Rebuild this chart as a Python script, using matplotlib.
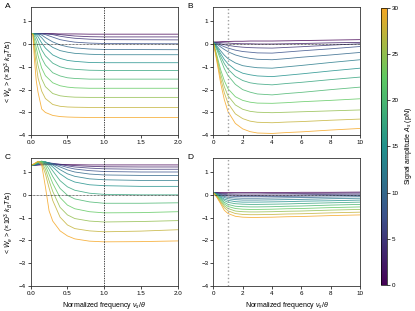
"""Work rate vs normalized signal frequency for a range of signal amplitudes."""

import matplotlib
matplotlib.use("Agg")
import matplotlib.pyplot as plt
from matplotlib.colors import LinearSegmentedColormap, Normalize
from matplotlib.cm import ScalarMappable

plt.rcParams["font.family"] = ["Liberation Sans", "DejaVu Sans"]
plt.rcParams["mathtext.fontset"] = "custom"
plt.rcParams["mathtext.rm"] = "Liberation Sans"
plt.rcParams["mathtext.it"] = "Liberation Sans:italic"
plt.rcParams["font.size"] = 4.5

# ---------------------------------------------------------------------------
# Data
# ---------------------------------------------------------------------------

AMPLITUDES = [0, 2.5, 5, 7.5, 10, 12.5, 15, 17.5, 20, 22.5, 25, 27.5, 30]  # pN

X_A = [0.01, 0.03, 0.05, 0.075, 0.1, 0.15, 0.2, 0.3, 0.4, 0.5, 0.6, 0.8, 1.0, 2.0]
W_A = [
    [0.45, 0.45, 0.45, 0.45, 0.45, 0.45, 0.45, 0.45, 0.44, 0.44, 0.44, 0.43, 0.43, 0.43],
    [0.45, 0.45, 0.45, 0.45, 0.45, 0.45, 0.45, 0.44, 0.41, 0.38, 0.35, 0.32, 0.31, 0.31],
    [0.45, 0.45, 0.45, 0.45, 0.45, 0.45, 0.45, 0.41, 0.34, 0.29, 0.25, 0.21, 0.19, 0.18],
    [0.45, 0.45, 0.45, 0.45, 0.45, 0.45, 0.41, 0.30, 0.19, 0.13, 0.08, 0.04, 0.02, 0.01],
    [0.45, 0.45, 0.45, 0.45, 0.45, 0.39, 0.28, 0.09, -0.04, -0.12, -0.17, -0.22, -0.24, -0.25],
    [0.45, 0.45, 0.45, 0.45, 0.42, 0.27, 0.08, -0.15, -0.29, -0.36, -0.41, -0.45, -0.47, -0.47],
    [0.45, 0.45, 0.45, 0.41, 0.32, 0.04, -0.18, -0.48, -0.63, -0.72, -0.76, -0.81, -0.82, -0.82],
    [0.45, 0.45, 0.42, 0.31, 0.13, -0.26, -0.52, -0.84, -1.00, -1.08, -1.11, -1.15, -1.16, -1.16],
    [0.45, 0.45, 0.35, 0.12, -0.15, -0.62, -0.92, -1.26, -1.40, -1.48, -1.51, -1.54, -1.54, -1.54],
    [0.45, 0.45, 0.21, -0.16, -0.51, -1.06, -1.39, -1.70, -1.83, -1.89, -1.92, -1.94, -1.94, -1.94],
    [0.45, 0.44, 0.03, -0.51, -0.95, -1.53, -1.87, -2.17, -2.27, -2.31, -2.33, -2.34, -2.34, -2.34],
    [0.45, 0.42, -0.26, -0.92, -1.49, -2.07, -2.39, -2.65, -2.73, -2.76, -2.77, -2.78, -2.78, -2.78],
    [0.45, 0.40, -0.65, -1.60, -2.12, -2.85, -3.00, -3.13, -3.18, -3.20, -3.21, -3.22, -3.22, -3.22],
]

X_B = [0, 0.25, 0.5, 0.75, 1, 1.5, 2, 2.5, 3, 4, 5, 6, 8, 10]
W_B = [
    [0.08, 0.09, 0.10, 0.11, 0.11, 0.12, 0.12, 0.13, 0.13, 0.13, 0.14, 0.15, 0.17, 0.19],
    [0.08, 0.07, 0.06, 0.05, 0.04, 0.02, 0.01, 0.01, 0.00, 0.00, 0.01, 0.02, 0.05, 0.07],
    [0.08, 0.05, 0.01, -0.03, -0.06, -0.11, -0.14, -0.16, -0.17, -0.18, -0.15, -0.12, -0.05, 0.01],
    [0.08, 0.02, -0.05, -0.12, -0.18, -0.27, -0.33, -0.36, -0.39, -0.40, -0.35, -0.30, -0.21, -0.11],
    [0.08, -0.01, -0.13, -0.24, -0.34, -0.48, -0.57, -0.63, -0.67, -0.69, -0.64, -0.58, -0.48, -0.37],
    [0.08, -0.09, -0.30, -0.49, -0.64, -0.83, -0.95, -1.00, -1.04, -1.06, -1.00, -0.94, -0.81, -0.69],
    [0.08, -0.15, -0.42, -0.68, -0.87, -1.13, -1.28, -1.35, -1.40, -1.43, -1.37, -1.31, -1.18, -1.06],
    [0.08, -0.20, -0.54, -0.86, -1.10, -1.42, -1.60, -1.70, -1.75, -1.79, -1.73, -1.68, -1.56, -1.45],
    [0.08, -0.27, -0.68, -1.08, -1.38, -1.77, -2.00, -2.11, -2.19, -2.23, -2.17, -2.12, -2.00, -1.89],
    [0.08, -0.51, -1.13, -1.61, -1.96, -2.31, -2.47, -2.55, -2.59, -2.60, -2.57, -2.53, -2.47, -2.40],
    [0.08, -0.60, -1.31, -1.87, -2.27, -2.67, -2.86, -2.95, -2.99, -3.01, -2.99, -2.97, -2.93, -2.89],
    [0.08, -0.70, -1.51, -2.14, -2.60, -3.06, -3.27, -3.38, -3.43, -3.45, -3.42, -3.40, -3.34, -3.29],
    [0.08, -0.80, -1.72, -2.44, -2.96, -3.48, -3.72, -3.84, -3.90, -3.92, -3.88, -3.85, -3.77, -3.70],
]

X_C = [0.01, 0.05, 0.1, 0.15, 0.2, 0.25, 0.3, 0.4, 0.5, 0.6, 0.8, 1.0, 1.5, 2.0]
W_C = [
    [1.30, 1.30, 1.31, 1.31, 1.32, 1.32, 1.32, 1.32, 1.32, 1.32, 1.31, 1.31, 1.31, 1.31],
    [1.30, 1.30, 1.31, 1.33, 1.35, 1.36, 1.36, 1.34, 1.31, 1.28, 1.25, 1.23, 1.22, 1.22],
    [1.30, 1.30, 1.32, 1.35, 1.38, 1.39, 1.38, 1.33, 1.27, 1.22, 1.17, 1.14, 1.12, 1.12],
    [1.30, 1.30, 1.33, 1.37, 1.40, 1.40, 1.37, 1.29, 1.20, 1.13, 1.06, 1.02, 1.00, 1.00],
    [1.30, 1.31, 1.34, 1.39, 1.42, 1.40, 1.35, 1.22, 1.09, 1.00, 0.91, 0.87, 0.85, 0.85],
    [1.30, 1.31, 1.36, 1.42, 1.44, 1.40, 1.31, 1.10, 0.92, 0.81, 0.70, 0.66, 0.63, 0.63],
    [1.30, 1.32, 1.38, 1.45, 1.45, 1.37, 1.22, 0.92, 0.70, 0.56, 0.44, 0.40, 0.37, 0.37],
    [1.30, 1.32, 1.40, 1.47, 1.44, 1.28, 1.05, 0.62, 0.35, 0.20, 0.07, 0.02, 0.00, 0.00],
    [1.30, 1.33, 1.42, 1.48, 1.38, 1.12, 0.80, 0.28, -0.02, -0.18, -0.31, -0.37, -0.37, -0.35],
    [1.30, 1.34, 1.44, 1.46, 1.28, 0.90, 0.50, -0.12, -0.45, -0.61, -0.74, -0.79, -0.78, -0.74],
    [1.30, 1.35, 1.46, 1.43, 1.12, 0.62, 0.15, -0.55, -0.88, -1.04, -1.15, -1.19, -1.17, -1.13],
    [1.30, 1.36, 1.47, 1.38, 0.92, 0.30, -0.25, -0.98, -1.32, -1.48, -1.58, -1.62, -1.59, -1.53],
    [1.30, 1.37, 1.46, 1.30, 0.35, -0.70, -1.15, -1.58, -1.80, -1.93, -2.03, -2.06, -2.05, -2.02],
]

X_D = [0, 0.25, 0.5, 0.75, 1, 1.5, 2, 2.5, 3, 4, 5, 6, 8, 10]
W_D = [
    [0.10, 0.10, 0.10, 0.10, 0.10, 0.10, 0.10, 0.10, 0.10, 0.10, 0.10, 0.11, 0.11, 0.12],
    [0.10, 0.09, 0.07, 0.06, 0.05, 0.04, 0.04, 0.04, 0.04, 0.05, 0.05, 0.06, 0.07, 0.08],
    [0.10, 0.08, 0.05, 0.02, 0.00, -0.01, -0.02, -0.02, -0.02, -0.01, -0.01, 0.00, 0.02, 0.03],
    [0.10, 0.06, 0.02, -0.02, -0.05, -0.07, -0.08, -0.08, -0.08, -0.07, -0.07, -0.06, -0.04, -0.02],
    [0.10, 0.05, -0.01, -0.07, -0.11, -0.14, -0.15, -0.15, -0.15, -0.14, -0.13, -0.12, -0.10, -0.08],
    [0.10, 0.03, -0.05, -0.12, -0.17, -0.21, -0.23, -0.23, -0.23, -0.22, -0.21, -0.20, -0.17, -0.15],
    [0.10, 0.02, -0.09, -0.19, -0.24, -0.30, -0.32, -0.32, -0.32, -0.31, -0.30, -0.28, -0.26, -0.23],
    [0.10, 0.00, -0.13, -0.25, -0.33, -0.39, -0.41, -0.42, -0.42, -0.41, -0.40, -0.38, -0.35, -0.32],
    [0.10, -0.03, -0.18, -0.33, -0.42, -0.50, -0.52, -0.53, -0.53, -0.52, -0.50, -0.49, -0.45, -0.42],
    [0.10, -0.05, -0.23, -0.40, -0.51, -0.60, -0.63, -0.64, -0.64, -0.63, -0.61, -0.60, -0.56, -0.53],
    [0.10, -0.07, -0.28, -0.48, -0.60, -0.71, -0.74, -0.75, -0.75, -0.74, -0.72, -0.71, -0.67, -0.64],
    [0.10, -0.09, -0.34, -0.56, -0.70, -0.82, -0.86, -0.87, -0.87, -0.86, -0.84, -0.83, -0.79, -0.76],
    [0.10, -0.12, -0.39, -0.68, -0.82, -0.94, -0.98, -0.99, -0.99, -0.98, -0.96, -0.95, -0.91, -0.88],
]

XTICKS_SHORT = [0.0, 0.5, 1.0, 1.5, 2.0]
XTICKS_LONG = [0, 2, 4, 6, 8, 10]
YTICKS = [-4, -3, -2, -1, 0, 1]
CBAR_TICKS = [0, 5, 10, 15, 20, 25, 30]

YLABEL = r"< $\dot{W}_e$ > ($\times$10$^3$ $k_B T$/s)"
XLABEL = r"Normalized frequency $\nu_s/\theta$"
CBAR_LABEL = r"Signal amplitude $A_s$ (pN)"

CMAP = LinearSegmentedColormap.from_list(
    "amp", ["#440154", "#3b528b", "#21918c", "#5ec962", "#f5a623"])
NORM = Normalize(0, 30)


def draw_panel(ax, x, rows, xlim, xticks, short):
    for amp, row in zip(AMPLITUDES, rows):
        ax.plot(x, row, color=CMAP(NORM(amp)), lw=0.6, alpha=0.85)
    if short:
        ax.axvline(1.0, color="k", ls=(0, (2, 1.5)), lw=0.5, zorder=3)
    else:
        ax.axvline(1.0, color="#a0a0a0", ls=":", lw=1.0, zorder=3)
    ax.axhline(0.0, color="k", ls=(0, (1, 1)), lw=0.5, zorder=3)
    ax.set_xlim(*xlim)
    ax.set_ylim(-4, 1.6)
    ax.set_xticks(xticks)
    if short:
        ax.set_xticklabels([f"{t:.1f}" for t in xticks])
    ax.set_yticks(YTICKS)
    ax.tick_params(length=2, width=0.5, pad=1.5, labelsize=4.5)
    for sp in ax.spines.values():
        sp.set_linewidth(0.6)
        sp.set_color("#333333")


def main() -> None:
    fig = plt.figure(figsize=(4.15, 3.11), dpi=100)
    w, h = 0.354, 0.411
    ax_a = fig.add_axes([0.074, 0.565, w, h])
    ax_b = fig.add_axes([0.514, 0.565, w, h])
    ax_c = fig.add_axes([0.074, 0.080, w, h])
    ax_d = fig.add_axes([0.514, 0.080, w, h])

    draw_panel(ax_a, X_A, W_A, (0, 2), XTICKS_SHORT, True)
    draw_panel(ax_b, X_B, W_B, (0, 10), XTICKS_LONG, False)
    draw_panel(ax_c, X_C, W_C, (0, 2), XTICKS_SHORT, True)
    draw_panel(ax_d, X_D, W_D, (0, 10), XTICKS_LONG, False)

    for ax in (ax_a, ax_c):
        ax.set_ylabel(YLABEL, fontsize=5, labelpad=2)
    for ax in (ax_c, ax_d):
        ax.set_xlabel(XLABEL, fontsize=5, labelpad=3)

    for ax, letter in zip((ax_a, ax_b, ax_c, ax_d), "ABCD"):
        pos = ax.get_position()
        fig.text(pos.x0 - 0.062, pos.y1 + 0.003, letter, fontsize=6,
                 ha="left", va="center")

    cax = fig.add_axes([0.917, 0.084, 0.015, 0.891])
    sm = ScalarMappable(norm=NORM, cmap=CMAP)
    cbar = fig.colorbar(sm, cax=cax, ticks=CBAR_TICKS)
    cbar.outline.set_linewidth(0.5)
    cbar.ax.tick_params(length=2, width=0.5, pad=1.5, labelsize=4.5)
    cbar.set_label(CBAR_LABEL, fontsize=5, labelpad=3)

    fig.savefig("out.png", dpi=100)
    plt.close(fig)


if __name__ == "__main__":
    main()
